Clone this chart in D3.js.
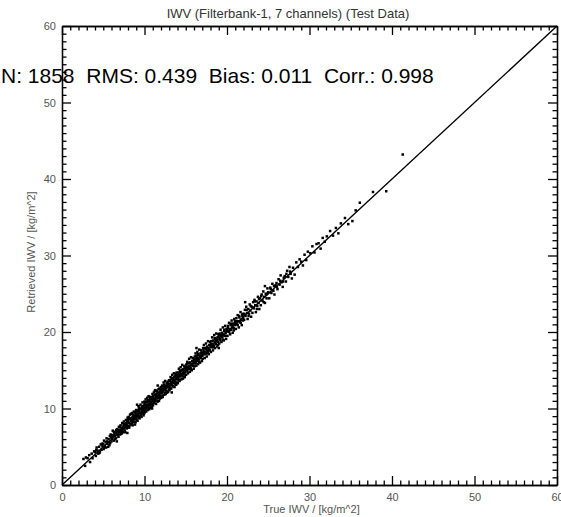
<!DOCTYPE html>
<html>
<head>
<meta charset="utf-8">
<script src="https://cdn.jsdelivr.net/npm/d3@7"></script>
<style>
  body { margin: 0; background: #fff; }
  svg { display: block; font-family: "Liberation Sans", Arial, sans-serif; }
  .axis path, .axis line { stroke: #000; stroke-width: 1.3; }
  .axis text { fill: #555; font-size: 11px; }
</style>
</head>
<body>
<div id="chart"></div>
<script>
var title = 'IWV (Filterbank-1, 7 channels) (Test Data)';
var stats = 'N: 1858  RMS: 0.439  Bias: 0.011  Corr.: 0.998';
var xLabel = 'True IWV / [kg/m^2]';
var yLabel = 'Retrieved IWV / [kg/m^2]';
var axisDomain = [0, 60];
var majorTicks = [0, 10, 20, 30, 40, 50, 60];
var minorTicks = [1,2,3,4,5,6,7,8,9,11,12,13,14,15,16,17,18,19,21,22,23,24,25,26,27,28,29,
                  31,32,33,34,35,36,37,38,39,41,42,43,44,45,46,47,48,49,51,52,53,54,55,56,57,58,59];
var oneToOne = [[0, 0], [60, 60]];

// [true IWV, retrieved IWV] (a sample of the 1858 cases)
var samples = [
  [2.6,3.4],[2.8,2.5],[2.9,3.6],
  [3.1,3.5],[3.3,3.9],[3.4,3.0],[3.6,4.1],[3.7,3.5],[3.9,4.4],
  [4.0,4.3],[4.1,3.8],[4.2,4.9],[4.3,4.5],[4.4,4.1],[4.5,5.0],[4.6,4.4],[4.7,5.3],[4.8,4.6],[4.9,5.1],
  [5.0,5.4],[5.05,4.7],[5.1,5.8],[5.2,5.1],[5.3,5.6],[5.35,4.9],[5.4,6.1],[5.5,5.4],[5.6,5.0],[5.65,6.0],
  [5.7,5.6],[5.8,6.4],[5.85,5.5],[5.95,6.2],
  [6.0,5.7],[6.05,6.5],[6.1,6.0],[6.15,7.1],[6.2,6.3],[6.3,5.8],[6.35,6.7],[6.4,6.4],[6.5,7.0],[6.55,6.1],
  [6.6,6.8],[6.65,5.7],[6.7,7.3],[6.75,6.6],[6.8,7.0],[6.85,6.3],[6.9,7.6],[6.95,6.9],
  [7.0,7.2],[7.05,6.6],[7.1,7.8],[7.15,7.0],[7.2,7.4],[7.25,6.8],[7.3,8.1],[7.35,7.5],[7.4,6.9],[7.45,7.7],
  [7.5,8.3],[7.55,7.3],[7.6,7.9],[7.65,6.9],[7.7,7.6],[7.75,8.5],[7.8,7.9],[7.85,7.4],[7.9,8.2],[7.92,6.8],
  [7.95,8.8],[7.98,7.7],
  [8.0,8.3],[8.04,7.6],[8.08,8.9],[8.12,8.1],[8.16,7.7],[8.2,8.6],[8.25,9.2],[8.3,8.0],[8.35,8.5],[8.4,7.9],
  [8.45,8.8],[8.5,9.4],[8.52,8.3],[8.56,7.8],[8.6,8.9],[8.65,8.5],[8.7,9.6],[8.72,8.2],[8.76,9.0],[8.8,8.6],
  [8.85,7.9],[8.9,9.3],[8.94,8.8],[8.98,9.8],
  [9.0,9.1],[9.04,8.5],[9.08,9.6],[9.12,9.0],[9.16,8.4],[9.2,9.8],[9.24,9.3],[9.28,10.3],[9.32,9.0],[9.36,9.6],
  [9.4,8.7],[9.44,9.9],[9.48,9.4],[9.52,10.5],[9.56,9.2],[9.6,9.9],[9.64,8.9],[9.68,10.2],[9.72,9.6],[9.76,10.8],
  [9.8,9.4],[9.84,10.0],[9.88,9.1],[9.92,10.4],[9.96,9.8],[9.99,10.9],
  [10.0,10.2],[10.03,9.5],[10.07,10.7],[10.1,10.0],[10.14,11.2],[10.18,10.4],[10.21,9.6],[10.25,10.8],
  [10.29,10.1],[10.32,11.4],[10.36,10.5],[10.4,9.8],[10.43,10.9],[10.47,10.3],[10.5,11.6],[10.54,10.6],
  [10.58,9.9],[10.61,11.0],[10.65,10.4],[10.69,11.3],[10.72,10.7],[10.76,10.1],[10.8,11.5],[10.83,10.9],
  [10.87,10.2],[10.9,11.2],[10.94,10.6],[10.97,11.9],
  [11.0,11.1],[11.03,10.4],[11.07,11.6],[11.1,11.0],[11.14,12.1],[11.18,11.3],[11.21,10.7],[11.25,11.8],
  [11.29,11.1],[11.32,12.4],[11.36,11.5],[11.4,10.6],[11.43,11.9],[11.47,11.3],[11.5,12.3],[11.54,11.6],
  [11.58,10.9],[11.61,12.0],[11.65,11.4],[11.69,12.5],[11.72,11.7],[11.76,11.0],[11.8,12.6],[11.83,11.9],
  [11.87,11.3],[11.9,12.2],[11.94,11.6],[11.97,12.8],
  [12.0,12.1],[12.03,11.4],[12.07,12.6],[12.1,12.0],[12.14,13.0],[12.18,12.3],[12.21,11.5],[12.25,12.9],
  [12.29,12.2],[12.32,13.4],[12.36,12.5],[12.4,11.8],[12.43,12.8],[12.47,12.4],[12.5,13.6],[12.54,12.6],
  [12.58,11.9],[12.61,13.0],[12.65,12.3],[12.69,13.3],[12.72,12.8],[12.76,12.1],[12.8,13.5],[12.83,12.9],
  [12.87,12.2],[12.9,13.2],[12.94,12.5],[12.97,13.7],
  [13.0,13.2],[13.04,12.4],[13.08,13.7],[13.12,13.0],[13.16,14.1],[13.2,13.4],[13.24,12.6],[13.28,13.9],
  [13.32,13.1],[13.36,14.4],[13.4,13.6],[13.44,12.9],[13.48,14.0],[13.52,13.3],[13.56,14.6],[13.6,13.7],
  [13.64,12.8],[13.68,14.2],[13.72,13.5],[13.76,14.5],[13.8,13.9],[13.84,13.1],[13.88,14.7],[13.92,14.0],
  [13.96,13.4],[13.99,14.3],
  [14.0,14.1],[14.04,13.3],[14.08,14.7],[14.12,14.0],[14.17,15.2],[14.21,14.4],[14.25,13.6],[14.29,14.9],
  [14.33,14.2],[14.38,15.4],[14.42,14.5],[14.46,13.8],[14.5,15.0],[14.54,14.3],[14.58,15.7],[14.63,14.7],
  [14.67,13.9],[14.71,15.1],[14.75,14.5],[14.8,15.5],[14.84,14.9],[14.88,14.1],[14.92,15.3],[14.96,14.8],
  [15.0,15.2],[15.05,14.4],[15.1,15.8],[15.14,15.0],[15.19,16.1],[15.23,15.4],[15.28,14.6],[15.32,15.9],
  [15.37,15.2],[15.41,16.5],[15.46,15.6],[15.5,14.8],[15.55,16.0],[15.6,15.3],[15.64,16.7],[15.69,15.8],
  [15.73,15.0],[15.78,16.2],[15.82,15.6],[15.87,16.6],[15.91,15.9],[15.96,15.2],
  [16.0,16.3],[16.05,15.5],[16.1,16.8],[16.14,16.0],[16.19,17.2],[16.23,16.4],[16.28,15.6],[16.32,16.9],
  [16.37,16.2],[16.41,17.4],[16.46,16.6],[16.5,15.8],[16.55,17.0],[16.6,16.4],[16.64,17.7],[16.69,16.8],
  [16.73,16.0],[16.78,17.2],[16.82,16.6],[16.87,17.6],[16.91,17.0],[16.96,16.2],
  [17.0,17.3],[17.05,16.5],[17.1,17.9],[17.15,17.1],[17.2,18.3],[17.25,17.4],[17.3,16.6],[17.35,17.9],
  [17.4,17.2],[17.45,18.5],[17.5,17.7],[17.55,16.8],[17.6,18.1],[17.65,17.4],[17.7,18.8],[17.75,17.9],
  [17.8,17.1],[17.85,18.3],[17.9,17.6],[17.95,18.7],
  [18.0,18.2],[18.05,17.4],[18.1,18.8],[18.15,18.0],[18.2,19.3],[18.25,18.4],[18.3,17.6],[18.35,18.9],
  [18.4,18.2],[18.45,19.6],[18.5,18.7],[18.55,17.9],[18.6,19.1],[18.65,18.4],[18.7,19.8],[18.75,18.9],
  [18.8,18.1],[18.85,19.3],[18.9,18.7],[18.95,19.7],
  [19.0,19.3],[19.06,18.5],[19.11,19.8],[19.17,19.1],[19.22,20.3],[19.28,19.5],[19.33,18.7],[19.39,19.9],
  [19.44,19.3],[19.5,20.6],[19.56,19.7],[19.61,18.9],[19.67,20.1],[19.72,19.5],[19.78,20.8],[19.83,19.9],
  [19.89,19.1],[19.94,20.4],
  [20.0,20.3],[20.06,19.5],[20.12,20.8],[20.19,20.1],[20.25,21.2],[20.31,20.4],[20.38,19.7],[20.44,20.9],
  [20.5,20.3],[20.56,21.5],[20.62,20.6],[20.69,19.9],[20.75,21.1],[20.81,20.5],[20.88,21.7],[20.94,20.9],
  [21.0,21.2],[21.07,20.4],[21.14,21.8],[21.21,21.0],[21.29,22.2],[21.36,21.4],[21.43,20.6],[21.5,21.9],
  [21.57,21.3],[21.64,22.6],[21.71,21.6],[21.79,20.9],[21.86,22.1],[21.93,21.5],
  [22.0,22.4],[22.08,21.6],[22.17,22.9],[22.25,22.1],[22.33,23.3],[22.42,22.5],[22.5,21.7],[22.58,23.0],
  [22.67,22.4],[22.75,23.6],[22.83,22.8],[22.92,22.0],
  [23.0,23.3],[23.08,22.5],[23.17,23.9],[23.25,23.1],[23.33,24.2],[23.42,23.5],[23.5,22.6],[23.58,24.0],
  [23.67,23.4],[23.75,24.6],[23.83,23.8],[23.92,23.0],
  [24.0,24.4],[24.1,23.5],[24.2,24.9],[24.3,24.1],[24.4,25.3],[24.5,24.6],[24.6,23.8],[24.7,25.0],
  [24.8,24.4],[24.9,25.7],
  [25.0,25.2],[25.12,24.4],[25.25,25.8],[25.38,25.1],[25.5,26.3],[25.62,25.4],[25.75,24.9],[25.88,26.1],
  [26.0,26.4],[26.12,25.6],[26.25,26.9],[26.38,26.2],[26.5,27.4],[26.62,26.5],[26.75,25.9],[26.88,27.1],
  [27.0,27.3],[27.14,26.6],[27.29,28.0],[27.43,27.2],[27.57,28.5],[27.71,27.6],[27.86,27.0],
  [28.0,28.4],[28.2,27.5],[28.4,29.1],[28.6,28.5],[28.8,29.5],
  [29.0,29.2],[29.2,28.7],[29.4,30.1],[29.6,29.4],[29.8,30.5],
  [30.1,30.3],[30.35,31.2],[30.6,30.4],[30.85,31.5],
  [31.1,31.6],[31.35,30.9],[31.6,32.3],[31.85,31.8],
  [32.1,32.5],[32.5,33.2],[32.85,32.6],
  [33.2,33.6],[33.5,32.9],[33.8,34.2],
  [34.3,34.9],[34.7,34.1],
  [35.2,34.5],[35.6,35.9],
  [36.1,36.9],
  [37.7,38.3],
  [39.3,38.4],
  [41.3,43.2],
  // second pass through the dense part of the band
  [4.15,4.6],[4.55,4.2],[4.85,5.4],[5.15,4.9],[5.45,5.7],[5.75,5.2],[5.9,6.6],
  [6.12,6.4],[6.28,6.9],[6.42,6.0],[6.58,7.2],[6.72,6.5],[6.88,7.2],[7.02,7.6],[7.18,6.7],[7.32,7.2],
  [7.48,8.0],[7.62,7.1],[7.78,8.1],[7.88,7.5],[7.97,8.4],
  [8.02,8.6],[8.14,7.5],[8.28,8.7],[8.38,9.3],[8.48,8.1],[8.62,9.2],[8.74,8.7],[8.82,9.5],[8.92,8.2],
  [9.02,9.7],[9.14,9.3],[9.26,8.8],[9.34,10.1],[9.46,9.0],[9.58,10.0],[9.66,9.4],[9.78,10.3],[9.86,9.7],[9.94,9.3],
  [10.02,10.6],[10.12,9.8],[10.22,10.9],[10.34,10.0],[10.44,11.1],[10.52,10.1],[10.62,11.5],[10.74,10.5],
  [10.84,11.3],[10.92,10.0],[11.02,11.5],[11.12,10.8],[11.24,12.3],[11.34,11.0],[11.44,11.6],[11.56,12.0],
  [11.66,11.0],[11.78,12.1],[11.88,11.5],[11.96,12.4],
  [12.05,12.4],[12.16,11.7],[12.27,12.6],[12.38,13.1],[12.48,12.0],[12.6,12.9],[12.7,12.1],[12.82,13.2],
  [12.92,12.8],[13.02,13.6],[13.14,12.7],[13.26,13.4],[13.38,13.9],[13.5,12.9],[13.62,14.1],[13.74,13.2],
  [13.86,14.3],[13.95,13.8],
  [14.06,14.4],[14.15,13.7],[14.27,14.6],[14.4,14.9],[14.52,13.9],[14.65,15.1],[14.77,14.2],[14.9,14.7],
  [14.98,15.6],[15.08,15.4],[15.2,14.9],[15.34,15.5],[15.48,16.0],[15.62,15.1],[15.74,15.7],[15.86,16.2],
  [15.94,15.6],
  [16.08,16.5],[16.2,15.9],[16.34,16.6],[16.48,17.1],[16.62,16.1],[16.76,16.8],[16.9,17.3],[17.02,16.9],
  [17.16,17.6],[17.3,17.1],[17.44,17.9],[17.58,17.2],[17.72,17.5],[17.86,17.7],[17.97,18.3],
  [18.08,18.4],[18.22,18.8],[18.36,18.0],[18.5,19.2],[18.64,18.8],[18.78,19.1],[18.92,18.3],[19.04,19.6],
  [19.2,18.9],[19.36,19.6],[19.52,19.0],[19.68,20.3],[19.84,19.5],[19.96,20.1],
  [20.1,20.5],[20.28,20.0],[20.46,21.1],[20.64,20.9],[20.82,20.2],[20.96,21.4],[21.12,21.4],[21.3,20.9],
  [21.48,22.1],[21.66,21.2],[21.84,22.3],[21.96,21.8],
  [22.12,22.3],[22.38,22.9],[22.62,22.1],[22.88,23.4],[23.12,23.2],[23.38,24.0],[23.62,23.0],[23.88,24.3],
  [24.15,24.7],[24.45,23.9],[24.75,24.9],[24.95,25.1],
  [25.3,25.6],[25.7,26.0],[26.05,25.9],[26.45,26.7],[26.8,26.6],[27.2,27.6],[27.65,27.9],
  [9.1,10.5],[11.6,13.0],[13.3,12.1],[16.3,17.9],[19.0,17.9],[22.2,23.9],[24.6,26.0]
];

var width = 561;
var height = 517;
var margin = { top: 26, right: 4, bottom: 32, left: 62 };
var w = width - margin.left - margin.right;
var h = height - margin.top - margin.bottom;

var svg = d3.select('#chart')
  .append('svg')
  .attr('width', width)
  .attr('height', height);

var g = svg.append('g')
  .attr('transform', 'translate(' + margin.left + ',' + margin.top + ')');

var x = d3.scaleLinear().domain(axisDomain).range([0, w]);
var y = d3.scaleLinear().domain(axisDomain).range([h, 0]);

// points first, then the 1:1 line on top
g.selectAll('.pt')
  .data(samples)
  .enter()
  .append('rect')
  .attr('class', 'pt')
  .attr('x', function(d) { return x(d[0]) - 1.25; })
  .attr('y', function(d) { return y(d[1]) - 1.25; })
  .attr('width', 2.5)
  .attr('height', 2.5)
  .attr('fill', '#000');

g.append('path')
  .datum(oneToOne)
  .attr('d', d3.line().x(function(d) { return x(d[0]); }).y(function(d) { return y(d[1]); }))
  .attr('fill', 'none')
  .attr('stroke', '#000')
  .attr('stroke-width', 1.4);

// IDL-style frame: ticks pointing inward on all four sides
function addAxis(axisFn, scale, ticks, size, labels, transform) {
  var a = axisFn(scale)
    .tickValues(ticks)
    .tickSizeInner(-size)
    .tickSizeOuter(0)
    .tickPadding(axisFn === d3.axisLeft ? 6 : 8);
  if (!labels) a.tickFormat('');
  g.append('g')
    .attr('class', 'axis')
    .attr('transform', transform)
    .call(a);
}

addAxis(d3.axisBottom, x, majorTicks, 9, true, 'translate(0,' + h + ')');
addAxis(d3.axisBottom, x, minorTicks, 4.5, false, 'translate(0,' + h + ')');
addAxis(d3.axisLeft, y, majorTicks, 9, true, null);
addAxis(d3.axisLeft, y, minorTicks, 4.5, false, null);
addAxis(d3.axisTop, x, majorTicks, 9, false, null);
addAxis(d3.axisTop, x, minorTicks, 4.5, false, null);
addAxis(d3.axisRight, y, majorTicks, 9, false, 'translate(' + w + ',0)');
addAxis(d3.axisRight, y, minorTicks, 4.5, false, 'translate(' + w + ',0)');

svg.append('text')
  .attr('x', 288)
  .attr('y', 18)
  .attr('text-anchor', 'middle')
  .attr('font-size', 13)
  .attr('fill', '#333')
  .text(title);

svg.append('text')
  .attr('x', 1)
  .attr('y', 83)
  .attr('font-size', 21)
  .attr('fill', '#000')
  .style('white-space', 'pre')
  .text(stats);

svg.append('text')
  .attr('x', margin.left + w / 2 + 2)
  .attr('y', 513)
  .attr('text-anchor', 'middle')
  .attr('font-size', 11)
  .attr('fill', '#555')
  .text(xLabel);

svg.append('text')
  .attr('transform', 'translate(35,252) rotate(-90)')
  .attr('text-anchor', 'middle')
  .attr('font-size', 11)
  .attr('fill', '#555')
  .text(yLabel);
</script>
</body>
</html>
